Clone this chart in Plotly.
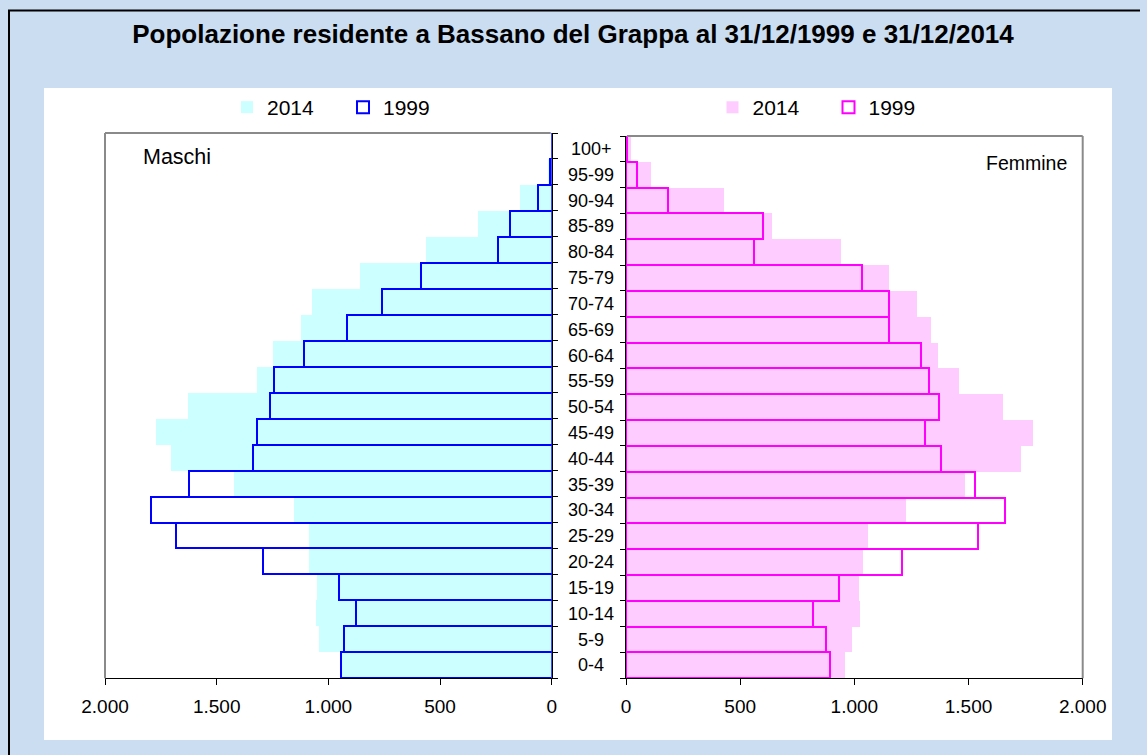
import plotly.graph_objects as go

W, H = 1147, 755

ages = ["0-4", "5-9", "10-14", "15-19", "20-24", "25-29", "30-34", "35-39", "40-44",
        "45-49", "50-54", "55-59", "60-64", "65-69", "70-74", "75-79", "80-84",
        "85-89", "90-94", "95-99", "100+"]

maschi_2014 = [938, 1042, 1055, 1050, 1086, 1086, 1154, 1423, 1704, 1771, 1628,
               1320, 1248, 1123, 1074, 859, 563, 330, 142, 15, 3]
maschi_1999 = [942, 930, 876, 952, 1293, 1680, 1796, 1623, 1338, 1318, 1262,
               1244, 1108, 918, 758, 585, 242, 187, 63, 8, 0]
femmine_2014 = [958, 988, 1023, 1019, 1037, 1058, 1225, 1485, 1729, 1781, 1650,
                1457, 1365, 1335, 1273, 1153, 940, 640, 429, 108, 24]
femmine_1999 = [892, 875, 821, 931, 1207, 1543, 1660, 1527, 1378, 1308, 1370,
                1326, 1291, 1150, 1150, 1032, 559, 600, 183, 47, 6]

tick_vals = [0, 500, 1000, 1500, 2000]

FONT = "Liberation Sans, Arial, Helvetica, sans-serif"
BG = "#CADDF1"

def px(x):
    return x / W

def py(y):
    return 1 - y / H

fig = go.Figure()

fig.add_trace(go.Bar(y=ages, x=maschi_2014, orientation="h", name="2014",
                     marker=dict(color="#CCFFFF", line=dict(width=0)),
                     xaxis="x", yaxis="y", legend="legend"))
fig.add_trace(go.Bar(y=ages, x=maschi_1999, orientation="h", name="1999",
                     marker=dict(color="rgba(0,0,0,0)", line=dict(color="#0000FF", width=2)),
                     xaxis="x", yaxis="y", legend="legend"))
fig.add_trace(go.Bar(y=ages, x=femmine_2014, orientation="h", name="2014",
                     marker=dict(color="#FFCCFF", line=dict(width=0)),
                     xaxis="x2", yaxis="y2", legend="legend2"))
fig.add_trace(go.Bar(y=ages, x=femmine_1999, orientation="h", name="1999",
                     marker=dict(color="rgba(0,0,0,0)", line=dict(color="#FF00FF", width=2)),
                     xaxis="x2", yaxis="y2", legend="legend2"))

L0, L1 = 105, 551.7
R0, R1 = 626, 1082.7
B = 678.3
TL, TR = 133, 136

axis_common = dict(showgrid=False, zeroline=False, showline=True, linecolor="black",
                   linewidth=1, ticks="outside", ticklen=6, tickcolor="black",
                   tickvals=tick_vals, tickformat=",d",
                   tickfont=dict(family=FONT, size=19, color="black"),
                   ticklabelstandoff=5, fixedrange=True)

fig.update_layout(
    width=W, height=H,
    margin=dict(l=0, r=0, t=0, b=0, pad=0, autoexpand=False),
    paper_bgcolor=BG,
    plot_bgcolor="rgba(0,0,0,0)",
    separators=",.",
    barmode="overlay", bargap=0,
    font=dict(family=FONT, color="black"),
    title=dict(text="Popolazione residente a Bassano del Grappa al 31/12/1999 e 31/12/2014",
               x=px(573), xanchor="center", y=py(34), yanchor="middle",
               font=dict(family=FONT, size=26, color="black", weight="bold")),
    xaxis=dict(domain=[px(L0), px(L1)], range=[2000, 0], anchor="y", **axis_common),
    xaxis2=dict(domain=[px(R0), px(R1)], range=[0, 2000], anchor="y2", **axis_common),
    yaxis=dict(domain=[py(B), py(TL)], anchor="x", side="right", showline=True,
               linecolor="black", linewidth=1, ticks="outside", ticklen=5,
               tickcolor="black", tickson="boundaries", showticklabels=False,
               showgrid=False, zeroline=False, fixedrange=True,
               categoryorder="array", categoryarray=ages),
    yaxis2=dict(domain=[py(B), py(TR)], anchor="x2", side="left", showline=True,
                linecolor="black", linewidth=1, ticks="outside", ticklen=5,
                tickcolor="black", tickson="boundaries", showticklabels=False,
                showgrid=False, zeroline=False, fixedrange=True,
                categoryorder="array", categoryarray=ages),
    legend=dict(orientation="h", x=px(227), xanchor="left", y=py(107.5), yanchor="middle",
                font=dict(family=FONT, size=21, color="black"), bgcolor="rgba(0,0,0,0)",
                entrywidth=71, traceorder="normal"),
    legend2=dict(orientation="h", x=px(712.5), xanchor="left", y=py(107.5), yanchor="middle",
                 font=dict(family=FONT, size=21, color="black"), bgcolor="rgba(0,0,0,0)",
                 entrywidth=71, traceorder="normal"),
    showlegend=True,
)

shapes = [
    # white chart area
    dict(type="rect", xref="paper", yref="paper", x0=px(44), x1=px(1112), y0=py(740), y1=py(88),
         fillcolor="white", line=dict(width=0), layer="below"),
    # black outer border (left and top edges visible)
    dict(type="line", xref="paper", yref="paper", x0=px(9), x1=px(9), y0=0, y1=py(10.5),
         line=dict(color="black", width=2)),
    dict(type="line", xref="paper", yref="paper", x0=px(8), x1=px(1140), y0=py(10.5), y1=py(10.5),
         line=dict(color="black", width=2)),
    # grey frame left panel
    dict(type="line", xref="paper", yref="paper", x0=px(L0), x1=px(L0), y0=py(B), y1=py(TL),
         line=dict(color="#8A8A8A", width=2)),
    dict(type="line", xref="paper", yref="paper", x0=px(L0), x1=px(L1 - 1), y0=py(TL), y1=py(TL),
         line=dict(color="#8A8A8A", width=2)),
    # grey frame right panel
    dict(type="line", xref="paper", yref="paper", x0=px(R1), x1=px(R1), y0=py(B), y1=py(TR),
         line=dict(color="#8A8A8A", width=2)),
    dict(type="line", xref="paper", yref="paper", x0=px(R0 + 1), x1=px(R1), y0=py(TR), y1=py(TR),
         line=dict(color="#8A8A8A", width=2)),
]
fig.update_layout(shapes=shapes)

annotations = [
    dict(text="Maschi", xref="paper", yref="paper", x=px(141), y=py(157), xanchor="left",
         yanchor="middle", showarrow=False, font=dict(family=FONT, size=21.5, color="black")),
    dict(text="Femmine", xref="paper", yref="paper", x=px(1069), y=py(163), xanchor="right",
         yanchor="middle", showarrow=False, font=dict(family=FONT, size=19.5, color="black")),
]
for a in ages:
    annotations.append(dict(text=a, xref="paper", yref="y2", x=px(591), y=a,
                            xanchor="center", yanchor="middle", showarrow=False,
                            font=dict(family=FONT, size=18, color="black")))
fig.update_layout(annotations=annotations)

fig.write_html("out.html", config={"displayModeBar": False})

with open("out.html", "r", encoding="utf-8") as f:
    html = f.read()
html = html.replace(
    "<head>",
    "<head><style>html,body{margin:0;padding:0;overflow:hidden;background:" + BG + ";}</style>",
    1)
with open("out.html", "w", encoding="utf-8") as f:
    f.write(html)
